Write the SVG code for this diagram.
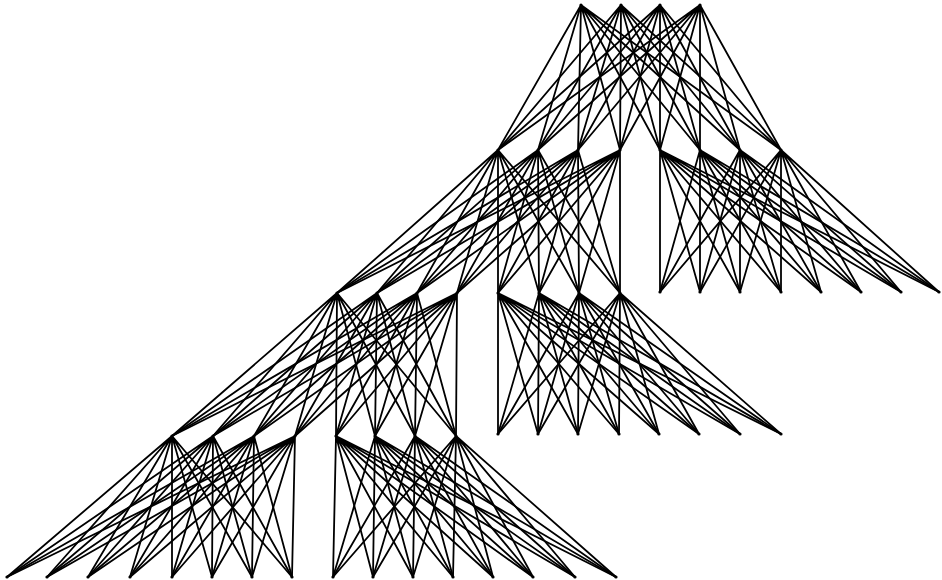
<svg xmlns="http://www.w3.org/2000/svg" width="942" height="580" viewBox="0 0 942 580">
<style>
.e{fill:none;stroke:#000;stroke-width:1.8;stroke-linecap:round}
.n circle{fill:#000}
</style>
<rect width="942" height="580" fill="#fff"/>
<g id="connectors" class="e">
<path d="M581 5L498 150M581 5L538 150M581 5L578 150M581 5L620 150M581 5L660 150M581 5L700 150M581 5L740 150M581 5L781 150"/>
<path d="M621 5L498 150M621 5L538 150M621 5L578 150M621 5L620 150M621 5L660 150M621 5L700 150M621 5L740 150M621 5L781 150"/>
<path d="M660 5L498 150M660 5L538 150M660 5L578 150M660 5L620 150M660 5L660 150M660 5L700 150M660 5L740 150M660 5L781 150"/>
<path d="M700 5L498 150M700 5L538 150M700 5L578 150M700 5L620 150M700 5L660 150M700 5L700 150M700 5L740 150M700 5L781 150"/>

<path d="M498 150L337 293M498 150L377 293M498 150L417 293M498 150L457 293M498 150L498 293M498 150L539 293M498 150L579 293M498 150L620 293"/>
<path d="M538 150L337 293M538 150L377 293M538 150L417 293M538 150L457 293M538 150L498 293M538 150L539 293M538 150L579 293M538 150L620 293"/>
<path d="M578 150L337 293M578 150L377 293M578 150L417 293M578 150L457 293M578 150L498 293M578 150L539 293M578 150L579 293M578 150L620 293"/>
<path d="M620 150L337 293M620 150L377 293M620 150L417 293M620 150L457 293M620 150L498 293M620 150L539 293M620 150L579 293M620 150L620 293"/>

<path d="M660 150L660 292M660 150L700 292M660 150L740 292M660 150L781 292M660 150L821 292M660 150L861 292M660 150L901 292M660 150L939 292"/>
<path d="M700 150L660 292M700 150L700 292M700 150L740 292M700 150L781 292M700 150L821 292M700 150L861 292M700 150L901 292M700 150L939 292"/>
<path d="M740 150L660 292M740 150L700 292M740 150L740 292M740 150L781 292M740 150L821 292M740 150L861 292M740 150L901 292M740 150L939 292"/>
<path d="M781 150L660 292M781 150L700 292M781 150L740 292M781 150L781 292M781 150L821 292M781 150L861 292M781 150L901 292M781 150L939 292"/>

<path d="M337 293L172 436M337 293L213 436M337 293L254 436M337 293L295 436M337 293L336 436M337 293L375 436M337 293L415 436M337 293L456 436"/>
<path d="M377 293L172 436M377 293L213 436M377 293L254 436M377 293L295 436M377 293L336 436M377 293L375 436M377 293L415 436M377 293L456 436"/>
<path d="M417 293L172 436M417 293L213 436M417 293L254 436M417 293L295 436M417 293L336 436M417 293L375 436M417 293L415 436M417 293L456 436"/>
<path d="M457 293L172 436M457 293L213 436M457 293L254 436M457 293L295 436M457 293L336 436M457 293L375 436M457 293L415 436M457 293L456 436"/>

<path d="M498 293L498 434M498 293L538 434M498 293L578 434M498 293L619 434M498 293L659 434M498 293L699 434M498 293L740 434M498 293L781 434"/>
<path d="M539 293L498 434M539 293L538 434M539 293L578 434M539 293L619 434M539 293L659 434M539 293L699 434M539 293L740 434M539 293L781 434"/>
<path d="M579 293L498 434M579 293L538 434M579 293L578 434M579 293L619 434M579 293L659 434M579 293L699 434M579 293L740 434M579 293L781 434"/>
<path d="M620 293L498 434M620 293L538 434M620 293L578 434M620 293L619 434M620 293L659 434M620 293L699 434M620 293L740 434M620 293L781 434"/>

<path d="M172 436L7 577M172 436L47 577M172 436L88 577M172 436L130 577M172 436L172 577M172 436L212 577M172 436L252 577M172 436L292 577"/>
<path d="M213 436L7 577M213 436L47 577M213 436L88 577M213 436L130 577M213 436L172 577M213 436L212 577M213 436L252 577M213 436L292 577"/>
<path d="M254 436L7 577M254 436L47 577M254 436L88 577M254 436L130 577M254 436L172 577M254 436L212 577M254 436L252 577M254 436L292 577"/>
<path d="M295 436L7 577M295 436L47 577M295 436L88 577M295 436L130 577M295 436L172 577M295 436L212 577M295 436L252 577M295 436L292 577"/>

<path d="M336 436L333 577M336 436L373 577M336 436L413 577M336 436L453 577M336 436L493 577M336 436L533 577M336 436L575 577M336 436L616 577"/>
<path d="M375 436L333 577M375 436L373 577M375 436L413 577M375 436L453 577M375 436L493 577M375 436L533 577M375 436L575 577M375 436L616 577"/>
<path d="M415 436L333 577M415 436L373 577M415 436L413 577M415 436L453 577M415 436L493 577M415 436L533 577M415 436L575 577M415 436L616 577"/>
<path d="M456 436L333 577M456 436L373 577M456 436L413 577M456 436L453 577M456 436L493 577M456 436L533 577M456 436L575 577M456 436L616 577"/>
</g>
<g id="nodes" class="n">
<g id="t0"><circle cx="581" cy="5" r="1.6"/></g>
<g id="t1"><circle cx="621" cy="5" r="1.6"/></g>
<g id="t2"><circle cx="660" cy="5" r="1.6"/></g>
<g id="t3"><circle cx="700" cy="5" r="1.6"/></g>
<g id="a0"><circle cx="498" cy="150" r="1.6"/></g>
<g id="a1"><circle cx="538" cy="150" r="1.6"/></g>
<g id="a2"><circle cx="578" cy="150" r="1.6"/></g>
<g id="a3"><circle cx="620" cy="150" r="1.6"/></g>
<g id="a4"><circle cx="660" cy="150" r="1.6"/></g>
<g id="a5"><circle cx="700" cy="150" r="1.6"/></g>
<g id="a6"><circle cx="740" cy="150" r="1.6"/></g>
<g id="a7"><circle cx="781" cy="150" r="1.6"/></g>
<g id="b0"><circle cx="337" cy="293" r="1.6"/></g>
<g id="b1"><circle cx="377" cy="293" r="1.6"/></g>
<g id="b2"><circle cx="417" cy="293" r="1.6"/></g>
<g id="b3"><circle cx="457" cy="293" r="1.6"/></g>
<g id="b4"><circle cx="498" cy="293" r="1.6"/></g>
<g id="b5"><circle cx="539" cy="293" r="1.6"/></g>
<g id="b6"><circle cx="579" cy="293" r="1.6"/></g>
<g id="b7"><circle cx="620" cy="293" r="1.6"/></g>
<g id="c0"><circle cx="660" cy="292" r="1.6"/></g>
<g id="c1"><circle cx="700" cy="292" r="1.6"/></g>
<g id="c2"><circle cx="740" cy="292" r="1.6"/></g>
<g id="c3"><circle cx="781" cy="292" r="1.6"/></g>
<g id="c4"><circle cx="821" cy="292" r="1.6"/></g>
<g id="c5"><circle cx="861" cy="292" r="1.6"/></g>
<g id="c6"><circle cx="901" cy="292" r="1.6"/></g>
<g id="c7"><circle cx="939" cy="292" r="1.6"/></g>
<g id="d0"><circle cx="172" cy="436" r="1.6"/></g>
<g id="d1"><circle cx="213" cy="436" r="1.6"/></g>
<g id="d2"><circle cx="254" cy="436" r="1.6"/></g>
<g id="d3"><circle cx="295" cy="436" r="1.6"/></g>
<g id="d4"><circle cx="336" cy="436" r="1.6"/></g>
<g id="d5"><circle cx="375" cy="436" r="1.6"/></g>
<g id="d6"><circle cx="415" cy="436" r="1.6"/></g>
<g id="d7"><circle cx="456" cy="436" r="1.6"/></g>
<g id="e0"><circle cx="498" cy="434" r="1.6"/></g>
<g id="e1"><circle cx="538" cy="434" r="1.6"/></g>
<g id="e2"><circle cx="578" cy="434" r="1.6"/></g>
<g id="e3"><circle cx="619" cy="434" r="1.6"/></g>
<g id="e4"><circle cx="659" cy="434" r="1.6"/></g>
<g id="e5"><circle cx="699" cy="434" r="1.6"/></g>
<g id="e6"><circle cx="740" cy="434" r="1.6"/></g>
<g id="e7"><circle cx="781" cy="434" r="1.6"/></g>
<g id="f0"><circle cx="7" cy="577" r="1.6"/></g>
<g id="f1"><circle cx="47" cy="577" r="1.6"/></g>
<g id="f2"><circle cx="88" cy="577" r="1.6"/></g>
<g id="f3"><circle cx="130" cy="577" r="1.6"/></g>
<g id="f4"><circle cx="172" cy="577" r="1.6"/></g>
<g id="f5"><circle cx="212" cy="577" r="1.6"/></g>
<g id="f6"><circle cx="252" cy="577" r="1.6"/></g>
<g id="f7"><circle cx="292" cy="577" r="1.6"/></g>
<g id="g0"><circle cx="333" cy="577" r="1.6"/></g>
<g id="g1"><circle cx="373" cy="577" r="1.6"/></g>
<g id="g2"><circle cx="413" cy="577" r="1.6"/></g>
<g id="g3"><circle cx="453" cy="577" r="1.6"/></g>
<g id="g4"><circle cx="493" cy="577" r="1.6"/></g>
<g id="g5"><circle cx="533" cy="577" r="1.6"/></g>
<g id="g6"><circle cx="575" cy="577" r="1.6"/></g>
<g id="g7"><circle cx="616" cy="577" r="1.6"/></g>
</g>
</svg>
